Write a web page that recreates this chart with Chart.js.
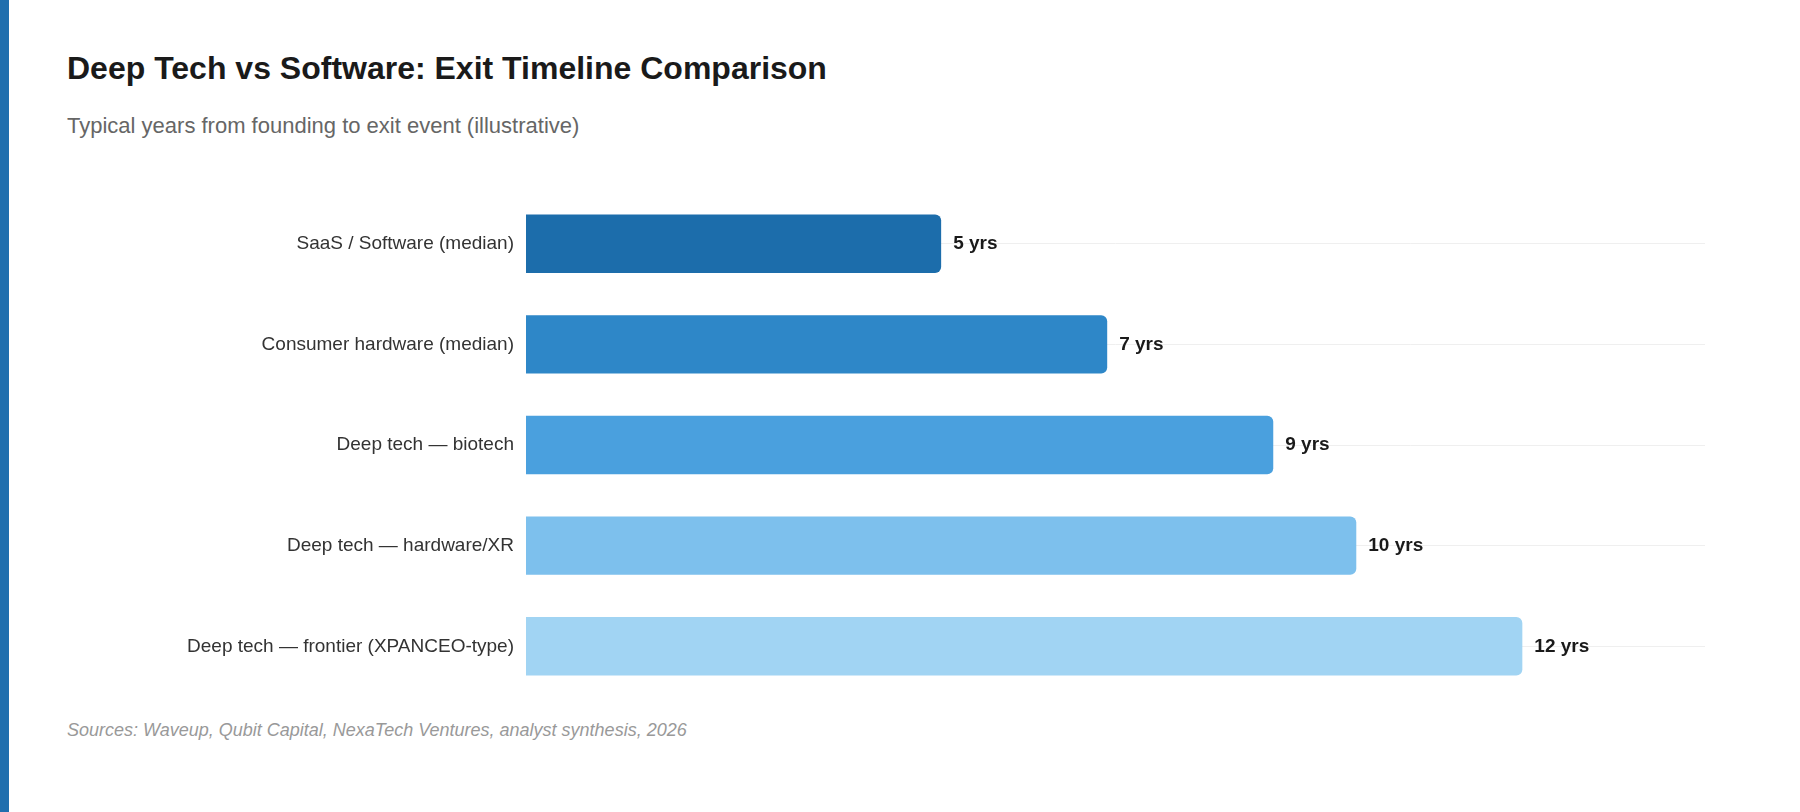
<!DOCTYPE html>
<html><head><meta charset="utf-8">
<script src="https://cdn.jsdelivr.net/npm/chart.js@4"></script>
<style>
  body { margin:0; width:1800px; height:812px; background:#fff; font-family:"Liberation Sans", Arial, sans-serif; position:relative; overflow:hidden; }
  .bar { position:absolute; left:0; top:0; width:9px; height:812px; background:#1f6fae; }
  h1 { position:absolute; left:67px; top:50px; margin:0; font-size:32px; font-weight:bold; color:#1a1a1a; }
  .sub { position:absolute; left:67px; top:113px; font-size:22px; color:#666; }
  .foot { position:absolute; left:67px; top:720px; font-size:18px; font-style:italic; color:#999; }
  .wrap { position:absolute; left:0; top:170px; width:1800px; height:550px; }
</style></head>
<body>
<div class="bar"></div>
<h1>Deep Tech vs Software: Exit Timeline Comparison</h1>
<div class="sub">Typical years from founding to exit event (illustrative)</div>
<div class="wrap"><canvas id="c"></canvas></div>
<div class="foot">Sources: Waveup, Qubit Capital, NexaTech Ventures, analyst synthesis, 2026</div>
<script>
/* ================= DATA ================= */
const categories = ["SaaS / Software (median)", "Consumer hardware (median)", "Deep tech \u2014 biotech", "Deep tech \u2014 hardware/XR", "Deep tech \u2014 frontier (XPANCEO-type)"];
const years = [5, 7, 9, 10, 12];
const colors = ["#1c6dab", "#2e87c8", "#4aa0de", "#7dc0ed", "#a1d4f3"];

/* ================= VALUE LABELS ================= */
const valueLabels = {
  id: "valueLabels",
  afterDatasetsDraw(chart) {
    const ctx = chart.ctx;
    ctx.save();
    ctx.font = "bold 19px 'Liberation Sans', Arial, sans-serif";
    ctx.fillStyle = "#1a1a1a";
    ctx.textBaseline = "middle";
    chart.getDatasetMeta(0).data.forEach((b, i) => {
      ctx.fillText(years[i] + " yrs", b.x + 12, b.y);
    });
    ctx.restore();
  }
};

new Chart(document.getElementById("c"), {
  type: "bar",
  data: {
    labels: categories,
    datasets: [{ data: years, backgroundColor: colors, borderRadius: 6, borderSkipped: "start", barPercentage: 0.58, categoryPercentage: 1 }]
  },
  options: {
    indexAxis: "y",
    responsive: true,
    maintainAspectRatio: false,
    animation: false,
    layout: { padding: { top: 14, bottom: 17, right: 95, left: 0 } },
    plugins: { legend: { display: false }, tooltip: { enabled: false } },
    scales: {
      x: { display: false, min: 0, max: 14.2 },
      y: {
        afterFit(s) { s.width = 526; },
        border: { display: false },
        grid: { offset: false, color: "#efefef", drawTicks: false },
        ticks: { color: "#333", padding: 12, font: { size: 19, family: "'Liberation Sans', Arial, sans-serif" } }
      }
    }
  },
  plugins: [valueLabels]
});
</script>
</body></html>
